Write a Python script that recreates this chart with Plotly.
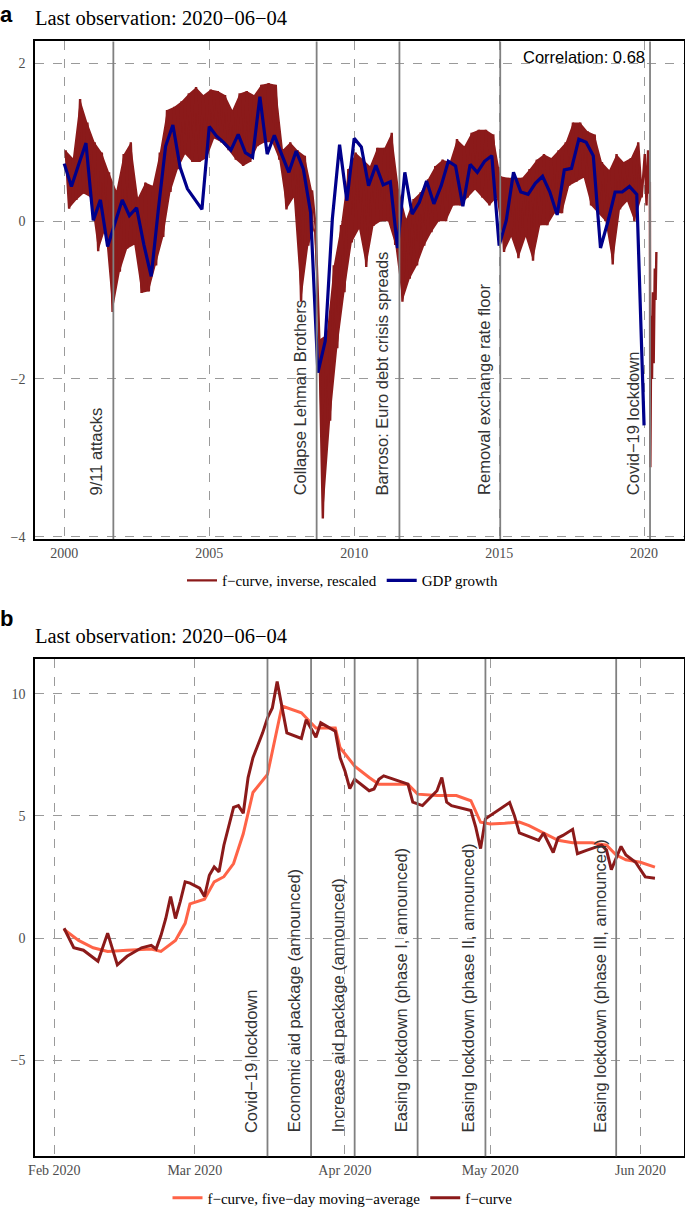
import plotly.graph_objects as go
import pandas as pd

# ---------------- Panel a data ----------------
gdp_start = "2000-01-01"
gdp_growth = [
    0.73, 0.44, 0.72, 0.99,
    0.01, 0.27, -0.32, -0.03,
    0.27, 0.07, 0.17, -0.30,
    -0.70, 0.15, 0.95, 1.22,
    0.68, 0.41, 0.28, 0.15,
    1.20, 1.08, 1.00, 0.90,
    1.10, 0.87, 0.81, 1.58,
    0.85, 1.09, 0.85, 0.62,
    0.89, 0.66, 0.11, -1.92,
    -1.52, 0.03, 0.97, 0.26,
    1.05, 0.94, 0.45, 0.71,
    0.46, 0.50, -0.34, 0.62,
    0.09, 0.24, 0.51, 0.22,
    0.45, 0.76, 0.70, 0.19,
    0.72, 0.62, 0.76, 0.83,
    -0.31, 0.01, 0.62, 0.37,
    0.34, 0.48, 0.57, 0.37,
    0.08, 0.65, 0.67, 1.04,
    1.00, 0.83, -0.34, -0.01,
    0.37, 0.37, 0.44, 0.34,
    -2.59,
]

# f-curve (inverse, rescaled): quarterly upper / lower readings of the daily band, 2000Q1-2019Q4
fcurve_a_high = [
    0.90, 0.80, 1.55, 1.25,
    1.00, 0.87, 0.62, 0.39,
    0.85, 1.00, 0.30, 0.49,
    0.45, 0.87, 1.41, 1.45,
    1.52, 1.62, 1.70, 1.60,
    1.67, 1.65, 1.60, 1.41,
    1.62, 1.65, 1.60, 1.73,
    1.75, 1.73, 0.91, 1.00,
    0.90, 0.83, 0.39, -1.50,
    -1.44, -0.56, -0.05, 0.66,
    0.87, 0.78, 0.70, 0.93,
    0.93, 1.12, 0.40, 0.03,
    0.28, 0.37, 0.53, 0.70,
    0.78, 0.75, 1.04, 0.95,
    1.12, 1.16, 1.16, 1.10,
    0.57, 0.55, 0.55, 0.55,
    0.66, 0.78, 0.85, 0.80,
    0.90, 1.00, 1.25, 1.25,
    1.14, 1.10, 0.75, 0.65,
    0.85, 0.75, 0.80, 1.00,
]
fcurve_a_low = [
    0.16, 0.27, 0.35, 0.30,
    -0.38, -0.10, -1.15, -0.64,
    -0.35, -0.30, -0.91, -0.89,
    -0.56, -0.20, 0.37, 0.66,
    0.85, 0.75, 0.75, 0.80,
    1.05, 1.00, 0.90, 0.78,
    0.70, 0.75, 0.95, 1.00,
    1.00, 0.78, 0.15, 0.30,
    -1.02, -0.31, -0.06, -3.77,
    -2.53, -1.61, -0.90, -0.27,
    -0.10, -0.58, -0.06, 0.00,
    0.00, -0.30, -1.02, -0.73,
    -0.56, -0.31, -0.14, 0.00,
    0.00, 0.20, 0.20, 0.30,
    0.40, 0.30, 0.20, 0.30,
    -0.39, -0.20, -0.47, -0.20,
    -0.50, -0.05, -0.05, 0.10,
    0.10, 0.45, 0.50, 0.55,
    0.20, 0.10, 0.00, -0.55,
    0.15, 0.25, 0.00, 0.30,
]
fcurve_a_2020_dates = ["2020-01-10", "2020-02-01", "2020-02-20", "2020-03-05", "2020-03-14",
                       "2020-03-20", "2020-04-01", "2020-04-10", "2020-04-22", "2020-05-01",
                       "2020-05-15", "2020-05-25", "2020-06-04"]
fcurve_a_2020_vals = [0.85, 0.20, 0.90, 0.35, 0.50, -3.12, -1.20, -2.00, -0.90, -1.80, -0.60, -1.00, -0.39]

events_a_dates = ["2001-09-11", "2008-09-15", "2011-07-25", "2015-01-15", "2020-03-16"]
events_a_labels = ["9/11 attacks", "Collapse Lehman Brothers", "Barroso: Euro debt crisis spreads",
                   "Removal exchange rate floor", "Covid−19 lockdown"]
xticks_a = ["2000-01-01", "2005-01-01", "2010-01-01", "2015-01-01", "2020-01-01"]
xticks_a_text = ["2000", "2005", "2010", "2015", "2020"]
yticks_a = [-4, -2, 0, 2]
yticks_a_text = ["−4", "−2", "0", "2"]

# ---------------- Panel b data ----------------
fcurve_b_dates = [
    "2020-02-03", "2020-02-05", "2020-02-07", "2020-02-10", "2020-02-12", "2020-02-14", "2020-02-16",
    "2020-02-19", "2020-02-21", "2020-02-22", "2020-02-23", "2020-02-24", "2020-02-25", "2020-02-26",
    "2020-02-27", "2020-02-28", "2020-02-29", "2020-03-02", "2020-03-03", "2020-03-04", "2020-03-05",
    "2020-03-06", "2020-03-07", "2020-03-09", "2020-03-10", "2020-03-11", "2020-03-12", "2020-03-13",
    "2020-03-15", "2020-03-16", "2020-03-17", "2020-03-18", "2020-03-20", "2020-03-23", "2020-03-24",
    "2020-03-26", "2020-03-27", "2020-03-30", "2020-03-31", "2020-04-01", "2020-04-02", "2020-04-03",
    "2020-04-06", "2020-04-07", "2020-04-08", "2020-04-09", "2020-04-14", "2020-04-15", "2020-04-17",
    "2020-04-20", "2020-04-21", "2020-04-22", "2020-04-23", "2020-04-27", "2020-04-28", "2020-04-29",
    "2020-04-30", "2020-05-01", "2020-05-03", "2020-05-05", "2020-05-06", "2020-05-07", "2020-05-09",
    "2020-05-11", "2020-05-12", "2020-05-14", "2020-05-15", "2020-05-16", "2020-05-18", "2020-05-19",
    "2020-05-21", "2020-05-24", "2020-05-25", "2020-05-26", "2020-05-28", "2020-05-29", "2020-05-31",
    "2020-06-02", "2020-06-04",
]
fcurve_b_vals = [
    0.4, -0.4, -0.5, -0.95, 0.2, -1.1, -0.75,
    -0.4, -0.3, -0.45, 0.1, 0.8, 1.7, 0.8,
    1.5, 2.3, 2.25, 2.04, 1.70, 2.57, 2.91,
    2.71, 3.8, 5.35, 5.42, 5.11, 6.57, 7.38,
    8.40, 9.01, 9.42, 10.5, 8.40, 8.17, 8.94,
    8.22, 8.81, 8.47, 7.38, 6.84, 6.12, 6.50,
    6.03, 6.10, 6.50, 6.64, 6.30, 5.56, 5.42,
    6.03, 6.57, 5.56, 5.42, 5.22, 4.54, 3.66,
    4.88, 5.02, 5.3, 5.55, 5.0, 4.3, 4.15,
    4.0, 4.3, 3.5, 4.1, 4.2, 4.45, 3.45,
    3.6, 3.8, 3.6, 2.8, 3.75, 3.4, 3.1,
    2.5, 2.45,
]
ma_b_dates = [
    "2020-02-03", "2020-02-06", "2020-02-09", "2020-02-12", "2020-02-16", "2020-02-21", "2020-02-23",
    "2020-02-26", "2020-02-28", "2020-02-29", "2020-03-03", "2020-03-05", "2020-03-07", "2020-03-09",
    "2020-03-11", "2020-03-13", "2020-03-16", "2020-03-18", "2020-03-19", "2020-03-23", "2020-03-24",
    "2020-03-26", "2020-03-30", "2020-03-31", "2020-04-03", "2020-04-06", "2020-04-08", "2020-04-14",
    "2020-04-16", "2020-04-20", "2020-04-24", "2020-04-27", "2020-04-29", "2020-05-01", "2020-05-04",
    "2020-05-07", "2020-05-09", "2020-05-12", "2020-05-15", "2020-05-18", "2020-05-22", "2020-05-25",
    "2020-05-27", "2020-05-29", "2020-06-01", "2020-06-04",
]
ma_b_vals = [
    0.35, -0.1, -0.4, -0.55, -0.5, -0.45, -0.55,
    -0.1, 0.6, 1.4, 1.59, 2.30, 2.51, 3.05,
    4.27, 5.96, 6.70, 8.60, 9.5, 9.22, 9.01,
    8.60, 8.60, 7.79, 7.04, 6.57, 6.30, 6.30,
    5.89, 5.83, 5.83, 5.62, 4.74, 4.67, 4.7,
    4.75, 4.6, 4.3, 4.0, 3.9, 3.9, 3.8,
    3.4, 3.2, 3.1, 2.9,
]
events_b_dates = ["2020-03-16", "2020-03-25", "2020-04-03", "2020-04-16", "2020-04-30", "2020-05-27"]
events_b_labels = ["Covid−19 lockdown", "Economic aid package (announced)", "Increase aid package (announced)",
                   "Easing lockdown (phase I, announced)", "Easing lockdown (phase II, announced)",
                   "Easing lockdown (phase III, announced)"]
xticks_b = ["2020-02-01", "2020-03-01", "2020-04-01", "2020-05-01", "2020-06-01"]
xticks_b_text = ["Feb 2020", "Mar 2020", "Apr 2020", "May 2020", "Jun 2020"]
yticks_b = [-5, 0, 5, 10]
yticks_b_text = ["−5", "0", "5", "10"]

# ---------------- Build ----------------
W, H = 685, 1215
quarters = pd.date_range(gdp_start, periods=len(gdp_growth), freq="QS")

hi_x = [q + pd.Timedelta(days=18) for q in quarters[:len(fcurve_a_high)]]
lo_x = [q + pd.Timedelta(days=62) for q in quarters[:len(fcurve_a_low)]]
za_x, za_y = [], []
for hx, h, lx, l in zip(hi_x, fcurve_a_high, lo_x, fcurve_a_low):
    za_x += [hx, lx]
    za_y += [h, l]
za_x += list(pd.to_datetime(fcurve_a_2020_dates))
za_y += fcurve_a_2020_vals

RED = "#8B1A1A"
fig = go.Figure()
fig.add_trace(go.Scatter(x=hi_x + lo_x[::-1], y=fcurve_a_high + fcurve_a_low[::-1], mode="lines",
                         fill="toself", fillcolor=RED, line=dict(color=RED, width=0),
                         hoverinfo="skip", showlegend=False, xaxis="x", yaxis="y"))
fig.add_trace(go.Scatter(x=za_x, y=za_y, mode="lines", line=dict(color=RED, width=2.4),
                         name="f−curve, inverse, rescaled", xaxis="x", yaxis="y", legend="legend"))
fig.add_trace(go.Scatter(x=quarters, y=gdp_growth, mode="lines", line=dict(color="#00008B", width=3.2),
                         name="GDP growth", xaxis="x", yaxis="y", legend="legend"))
fig.add_trace(go.Scatter(x=ma_b_dates, y=ma_b_vals, mode="lines", line=dict(color="#FF6347", width=3),
                         name="f−curve, five−day moving−average", xaxis="x2", yaxis="y2", legend="legend2"))
fig.add_trace(go.Scatter(x=fcurve_b_dates, y=fcurve_b_vals, mode="lines", line=dict(color=RED, width=3),
                         name="f−curve", xaxis="x2", yaxis="y2", legend="legend2"))

def px_y(p):
    return 1 - p / H

common = dict(showline=True, mirror=True, linecolor="black", linewidth=1.5, showgrid=True,
              gridcolor="#9a9a9a", gridwidth=0.7, griddash="dash", zeroline=False, ticks="",
              automargin=False, tickfont=dict(family="Liberation Serif", size=14, color="#4d4d4d"))

fig.update_layout(
    width=W, height=H, template="none",
    margin=dict(l=0, r=0, t=0, b=0),
    paper_bgcolor="white", plot_bgcolor="white",
    xaxis=dict(common, type="date", domain=[35 / W, 684 / W], anchor="y",
               range=["1998-12-29", "2021-05-18"], tickvals=xticks_a, ticktext=xticks_a_text),
    yaxis=dict(common, domain=[px_y(543), px_y(41.7)], anchor="x", range=[-4.03, 2.28],
               tickvals=yticks_a, ticktext=yticks_a_text, ticklabelstandoff=5),
    xaxis2=dict(common, type="date", domain=[35 / W, 684 / W], anchor="y2",
                range=["2020-01-28", "2020-06-10"], tickvals=xticks_b, ticktext=xticks_b_text),
    yaxis2=dict(common, domain=[px_y(1165), px_y(664)], anchor="x2", range=[-8.94, 11.42],
                tickvals=yticks_b, ticktext=yticks_b_text, ticklabelstandoff=5),
    legend=dict(orientation="h", x=0.5, xanchor="center", y=px_y(585), yanchor="middle",
                font=dict(family="Liberation Serif", size=15, color="black"), bgcolor="rgba(0,0,0,0)"),
    legend2=dict(orientation="h", x=0.5, xanchor="center", y=px_y(1207), yanchor="middle",
                 font=dict(family="Liberation Serif", size=15, color="black"), bgcolor="rgba(0,0,0,0)"),
)

shapes, annotations = [], []
for d in events_a_dates:
    shapes.append(dict(type="line", xref="x", yref="y domain", x0=d, x1=d, y0=0, y1=1,
                       line=dict(color="#808080", width=1.8)))
for d, lbl in zip(events_a_dates, events_a_labels):
    annotations.append(dict(x=d, y=-3.5, xref="x", yref="y", text=lbl, textangle=-90,
                            xanchor="right", yanchor="bottom", xshift=-6, showarrow=False,
                            font=dict(family="Liberation Sans", size=16.5, color="#333333")))
for d in events_b_dates:
    shapes.append(dict(type="line", xref="x2", yref="y2 domain", x0=d, x1=d, y0=0, y1=1,
                       line=dict(color="#808080", width=1.8)))
for d, lbl in zip(events_b_dates, events_b_labels):
    annotations.append(dict(x=d, y=-8.05, xref="x2", yref="y2", text=lbl, textangle=-90,
                            xanchor="right", yanchor="bottom", xshift=-6, showarrow=False,
                            font=dict(family="Liberation Sans", size=16.5, color="#333333")))

annotations.append(dict(x="2020-01-01", y=2.08, xref="x", yref="y", text="Correlation: 0.68",
                        xanchor="right", yanchor="middle", xshift=3, showarrow=False,
                        font=dict(family="Liberation Sans", size=16.5, color="black")))
for ytop, txt in [(18, "Last observation: 2020−06−04"), (641, "Last observation: 2020−06−04")]:
    annotations.append(dict(x=33 / W, y=px_y(ytop), xref="paper", yref="paper", text=txt,
                            xanchor="left", yanchor="middle", showarrow=False,
                            font=dict(family="Liberation Serif", size=20.5, color="black")))
annotations.append(dict(x=-2 / W, y=1, xref="paper", yref="paper", text="<b>a</b>",
                        xanchor="left", yanchor="top", showarrow=False,
                        font=dict(family="Liberation Sans", size=22, color="black")))
annotations.append(dict(x=-2 / W, y=px_y(623), xref="paper", yref="paper", text="<b>b</b>",
                        xanchor="left", yanchor="middle", showarrow=False,
                        font=dict(family="Liberation Sans", size=22, color="black")))

fig.update_layout(shapes=shapes, annotations=annotations)
page_css = ("document.documentElement.style.margin='0';document.documentElement.style.padding='0';"
            "document.body.style.margin='0';document.body.style.padding='0';"
            "document.documentElement.style.overflow='hidden';document.body.style.overflow='hidden';"
            "document.body.style.height='1215px';")
fig.write_html("out.html", config={"displayModeBar": False}, post_script=page_css)
